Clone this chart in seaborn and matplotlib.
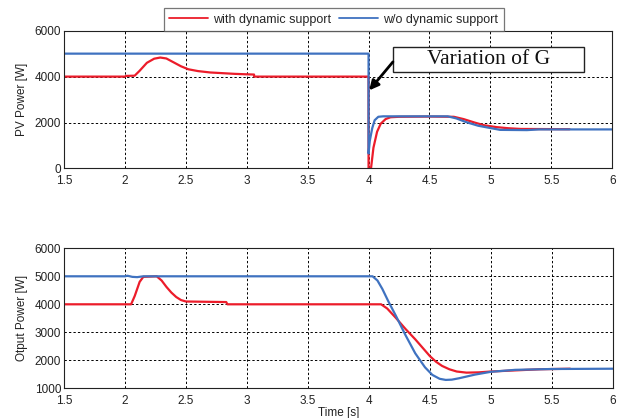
import numpy as np
import pandas as pd
import matplotlib
matplotlib.use("Agg")
import matplotlib.pyplot as plt
import seaborn as sns
from matplotlib.patches import Rectangle

# ---------------- data ----------------
series_names = ["with dynamic support", "w/o dynamic support"]

pv_with_t = [1.5, 2.0, 2.01, 2.08, 2.12, 2.18, 2.24, 2.29, 2.34, 2.40, 2.46, 2.52, 2.6, 2.7, 2.8, 2.9,
             3.0, 3.06, 3.06, 4.0, 4.0, 4.02, 4.04, 4.07, 4.10, 4.14, 4.18, 4.25, 4.5, 4.7, 4.78,
             4.87, 4.95, 5.05, 5.15, 5.25, 5.65]
pv_with_p = [4000, 4000, 4030, 4040, 4250, 4600, 4780, 4830, 4790, 4620, 4450, 4320, 4240, 4180, 4150, 4120,
             4100, 4090, 4000, 4000, 0, 0, 900, 1600, 1950, 2150, 2230, 2250, 2260, 2250, 2150,
             2000, 1880, 1800, 1750, 1720, 1710]

pv_wo_t = [1.5, 4.0, 4.0, 4.01, 4.03, 4.05, 4.08, 4.12, 4.65, 4.72, 4.8, 4.9, 5.0, 5.08, 5.3, 5.4, 6.0]
pv_wo_p = [5000, 5000, 650, 1200, 1750, 2100, 2250, 2270, 2270, 2180, 2020, 1860, 1760, 1680, 1670, 1700, 1700]

out_with_t = [1.5, 2.05, 2.08, 2.12, 2.15, 2.26, 2.30, 2.34, 2.38, 2.42, 2.46, 2.5, 2.83, 2.84, 4.1, 4.15,
              4.22, 4.3, 4.38, 4.45, 4.5, 4.55, 4.6, 4.66, 4.72, 4.8, 4.9, 5.0, 5.2, 5.4, 5.65]
out_with_p = [4000, 4000, 4300, 4800, 4980, 5000, 4850, 4620, 4420, 4260, 4150, 4100, 4080, 4000, 4000, 3850,
              3520, 3120, 2750, 2400, 2150, 1950, 1800, 1680, 1600, 1560, 1570, 1600, 1640, 1680, 1700]

out_wo_t = [1.5, 2.0, 2.02, 2.06, 2.1, 2.15, 4.03, 4.07, 4.11, 4.16, 4.22, 4.3, 4.38, 4.46, 4.52, 4.58,
            4.63, 4.68, 4.74, 4.8, 4.87, 5.0, 5.2, 5.5, 6.0]
out_wo_p = [5000, 5000, 5020, 4980, 4970, 5000, 5000, 4850, 4550, 4100, 3600, 2900, 2250, 1750, 1480, 1340,
            1300, 1310, 1360, 1420, 1490, 1590, 1660, 1690, 1700]

pv_yticks = [0, 2000, 4000, 6000]
out_yticks = [1000, 2000, 3000, 4000, 5000, 6000]
xticks = [1.5, 2, 2.5, 3, 3.5, 4, 4.5, 5, 5.5, 6]
xtick_labels = ["1.5", "2", "2.5", "3", "3.5", "4", "4.5", "5", "5.5", "6"]

def frame(t1, p1, t2, p2):
    return pd.DataFrame({
        "t": list(t1) + list(t2),
        "p": list(p1) + list(p2),
        "s": [series_names[0]] * len(t1) + [series_names[1]] * len(t2),
    })

df_pv = frame(pv_with_t, pv_with_p, pv_wo_t, pv_wo_p)
df_out = frame(out_with_t, out_with_p, out_wo_t, out_wo_p)

# ---------------- style ----------------
sns.set_theme(style="white")
plt.rcParams["font.family"] = ["Liberation Sans", "DejaVu Sans"]
plt.rcParams["font.size"] = 8.5

palette = {series_names[0]: "#EC1C2A", series_names[1]: "#3F72C0"}
txt_col = "#222222"

fig = plt.figure(figsize=(6.18, 4.18), dpi=100)
ax1 = fig.add_axes([0.1036, 0.597, 0.887, 0.3296])
ax2 = fig.add_axes([0.1036, 0.071, 0.888, 0.335])

for ax, df, yt, ylab in [(ax1, df_pv, pv_yticks, "PV Power [W]"),
                         (ax2, df_out, out_yticks, "Otput Power [W]")]:
    sns.lineplot(data=df, x="t", y="p", hue="s", palette=palette, estimator=None,
                 sort=False, units="s", lw=1.6, ax=ax, legend=(ax is ax1))
    ax.set_xlim(1.5, 6)
    ax.set_ylim(yt[0], yt[-1])
    ax.set_xticks(xticks)
    ax.set_xticklabels(xtick_labels)
    ax.set_yticks(yt)
    ax.grid(True, color="black", linestyle=(0, (2.4, 2.2)), lw=0.7)
    ax.tick_params(axis="both", direction="in", length=3, labelsize=8.5,
                   colors=txt_col, width=0.6)
    ax.tick_params(axis="x", pad=4.5)
    ax.tick_params(axis="y", pad=2)
    ax.set_ylabel(ylab, fontsize=8.5, labelpad=5, color=txt_col)
    ax.set_xlabel("")
    for sp in ax.spines.values():
        sp.set_color(txt_col)
        sp.set_linewidth(0.8)

ax2.set_xlabel("Time [s]", fontsize=8.5, labelpad=0, color=txt_col)

# legend above the top axes
handles, labels = ax1.get_legend_handles_labels()
ax1.get_legend().remove()
leg = fig.legend(handles, labels, ncol=2, loc="lower center",
                 bbox_to_anchor=(0.5397, 0.9255),
                 frameon=True, fancybox=False, edgecolor="#555555", fontsize=9,
                 handlelength=3.1, handletextpad=0.4, columnspacing=0.65,
                 borderpad=0.45, borderaxespad=0)
leg.get_frame().set_linewidth(0.9)
for h in leg.legend_handles:
    h.set_linewidth(1.3)

# annotation "Variation of G"
rect = Rectangle((0.600, 0.700), 0.349, 0.1815, transform=ax1.transAxes,
                 facecolor="white", edgecolor=txt_col, lw=1.0, zorder=5)
ax1.add_patch(rect)
ax1.text(0.7745, 0.791, "Variation of G", transform=ax1.transAxes, ha="center", va="center",
         fontsize=15.5, family=["Liberation Serif", "DejaVu Serif"], color="#111111", zorder=6)
ax1.annotate("", xy=(4.005, 3400), xytext=(4.20, 4640),
             arrowprops=dict(arrowstyle="-|>", lw=2.0, color="black", mutation_scale=14,
                             shrinkA=0, shrinkB=0), zorder=6)

fig.savefig("out.png", dpi=100)
